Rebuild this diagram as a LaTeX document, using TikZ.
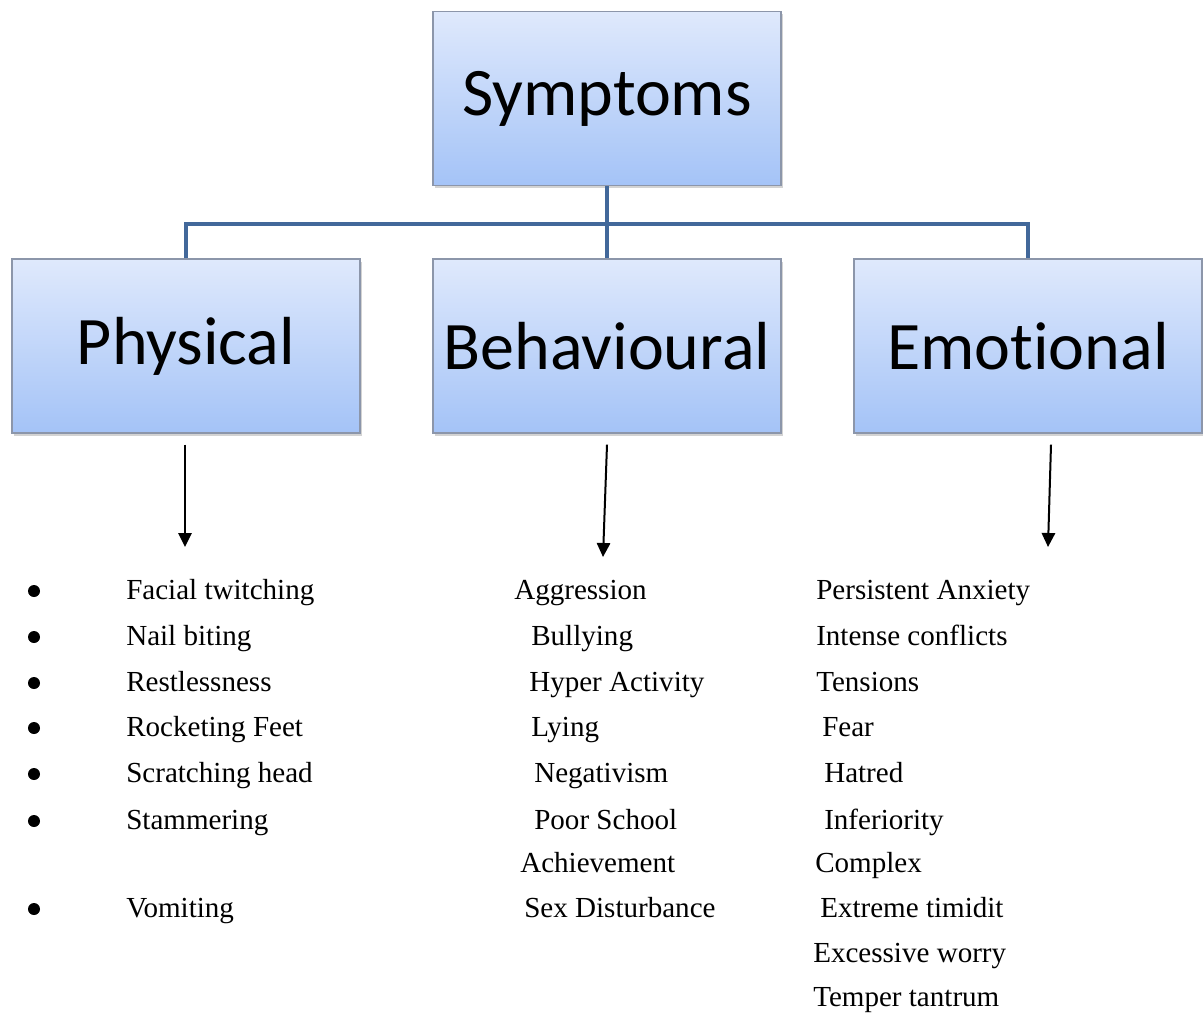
\documentclass[tikz,border=0pt]{standalone}
\usepackage{fontspec}
\setmainfont{Liberation Serif}
\newfontfamily\boxfont[Ligatures=NoCommon]{Carlito}
\usetikzlibrary{arrows.meta,shadows}
\definecolor{boxtop}{RGB}{223,233,252}
\definecolor{boxbot}{RGB}{164,195,247}
\definecolor{boxline}{RGB}{140,150,170}
\definecolor{busblue}{RGB}{66,104,154}
\begin{document}
\begin{tikzpicture}[x=0.75pt,y=-0.75pt,
	catbox/.style={draw=boxline,line width=0.9pt,top color=boxtop,bottom color=boxbot,
		minimum width=261pt,minimum height=130.5pt,inner sep=0pt,
		drop shadow={opacity=0.35,shadow xshift=1.2pt,shadow yshift=-2pt},
		font=\boxfont\fontsize{51}{60}\selectfont},
	bus/.style={busblue,line width=3pt},
	arr/.style={-{Triangle[length=10.5pt,width=10pt]},line width=1.5pt},
	dot/.style={circle,fill=black,inner sep=0pt,minimum size=9pt},
	item/.style={anchor=base west,inner sep=0pt,font=\fontsize{21.8}{26}\selectfont}]
	\useasboundingbox (0,0) rectangle (1203,1015);
	% boxes
	\node[catbox] (sym) at (607,98.5) {Symptoms};
	\node[catbox] (phy) at (186,346) {Physical};
	\node[catbox] (beh) at (607,346) {Behavioural};
	\node[catbox] (emo) at (1028,346) {Emotional};
	% tree lines
	\coordinate (bus) at (607,224);
	\draw[bus] (sym.south) -- (bus);
	\draw[bus] (phy.north) |- (bus) -| (emo.north);
	\draw[bus] (bus) -- (beh.north);
	% arrows
	\coordinate (phyH) at (185,547);
	\coordinate (behH) at (603,557);
	\coordinate (emoH) at (1048,547);
	\draw[arr] (phy.south) ++(-1,11) -- (phyH);
	\draw[arr] (beh.south) ++(0,11) -- (behH);
	\draw[arr] (emo.south) ++(23,11) -- (emoH);
	% physical list
	\foreach \txt/\y [count=\i] in {Facial twitching/599,Nail biting/645,Restlessness/691,
		Rocketing Feet/736,Scratching head/782,Stammering/829,Vomiting/917}{
		\node[dot] (dot\i) at (34,\y-8) {};
		\node[item] (phy\i) at (126,\y) {\txt};
	}
	% behavioural list
	\foreach \txt/\x/\y [count=\i] in {Aggression/514/599,Bullying/531/645,Hyper Activity/529/691,
		Lying/531/736,Negativism/534/782,Poor School/534/829,Achievement/520/872,
		Sex Disturbance/524/917}{
		\node[item] (beh\i) at (\x,\y) {\txt};
	}
	% emotional list
	\foreach \txt/\x/\y [count=\i] in {Persistent Anxiety/816/599,Intense conflicts/816/645,
		Tensions/816/691,Fear/822/736,Hatred/824/782,Inferiority/824/829,Complex/815/872,
		Extreme timidit/820/917,Excessive worry/813/962,Temper tantrum/813/1006}{
		\node[item] (emo\i) at (\x,\y) {\txt};
	}
\end{tikzpicture}
\end{document}
